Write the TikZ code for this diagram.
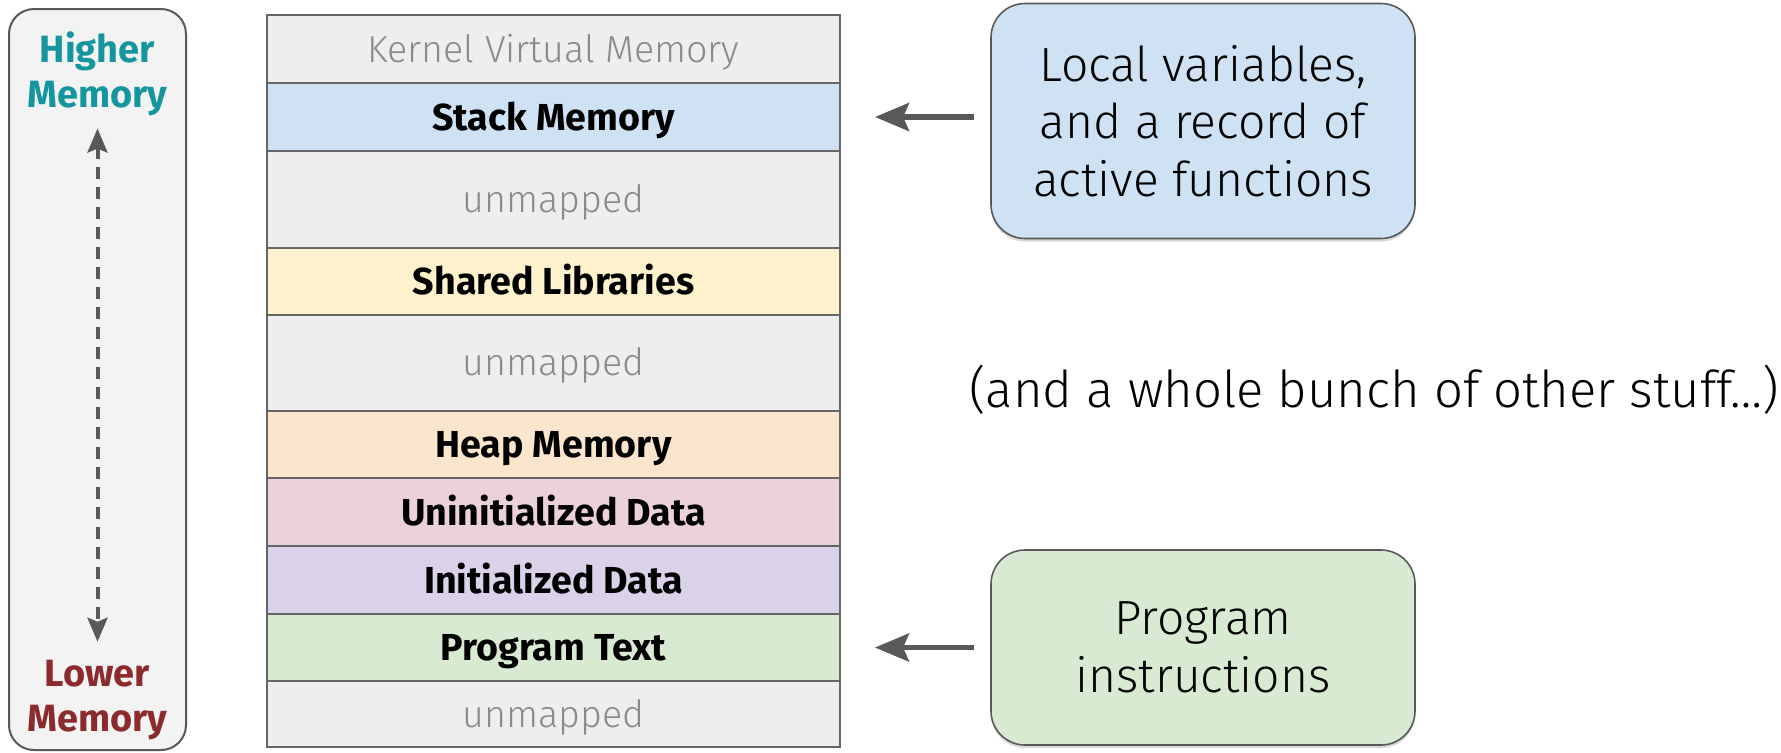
\documentclass[tikz,border=0pt]{standalone}
\usepackage{fontspec}
\setmainfont{Fira Sans}
\newfontfamily\lightfont{Fira Sans Light}
\usetikzlibrary{arrows.meta,shadows}

\definecolor{edgegray}{HTML}{666666}
\definecolor{darkgray}{HTML}{595959}
\definecolor{unmapfill}{HTML}{EEEEEE}
\definecolor{sidefill}{HTML}{F3F3F3}
\definecolor{stackfill}{HTML}{CFE2F3}
\definecolor{sharedfill}{HTML}{FFF2CC}
\definecolor{heapfill}{HTML}{FCE5CD}
\definecolor{bssfill}{HTML}{EAD1DC}
\definecolor{datafill}{HTML}{D9D2E9}
\definecolor{textfill}{HTML}{D9EAD3}
\definecolor{dimtext}{HTML}{8A8A8A}
\definecolor{hightext}{HTML}{15969F}
\definecolor{lowtext}{HTML}{8B2B2E}

\begin{document}
\begin{tikzpicture}[x=0.5pt,y=-0.5pt,
  memrow/.style={draw=edgegray, line width=1pt, minimum width=286.5pt,
    inner sep=0pt, outer sep=0pt},
  boldlabel/.style={font=\bfseries\fontsize{18.8}{20}\selectfont,
    text height=13pt, text depth=0pt},
  dimlabel/.style={text=dimtext, font=\lightfont\fontsize{18.8}{22}\selectfont,
    text height=13pt, text depth=0pt},
  sidebox/.style={draw=darkgray, line width=1pt, fill=sidefill,
    rounded corners=12.5pt, minimum width=88.5pt, minimum height=370.5pt},
  endlabel/.style={align=center, inner sep=0pt,
    font=\bfseries\fontsize{19}{22.5}\selectfont},
  callout/.style={draw=darkgray, line width=0.8pt, rounded corners=17pt,
    minimum width=212pt, align=center, inner sep=0pt,
    font=\lightfont\fontsize{24}{28.75}\selectfont,
    drop shadow={opacity=0.3, shadow xshift=0pt, shadow yshift=-1.5pt}},
  pointer/.style={draw=darkgray, line width=2.8pt,
    -{Stealth[length=17pt,width=14pt,inset=3pt]}},
  spanarrow/.style={draw=darkgray, line width=2pt, dash pattern=on 6pt off 4pt,
    {Stealth[length=12pt,width=10pt,inset=2pt]}-{Stealth[length=12pt,width=10pt,inset=2pt]}},
  note/.style={font=\lightfont\fontsize{25.4}{27}\selectfont, inner sep=0pt}
]
\useasboundingbox (0,0) rectangle (1781,752);

% address-space column, top (high addresses) to bottom
\node[memrow, fill=unmapfill, minimum height=34pt, dimlabel] (kernel) at (553.5,49) {Kernel Virtual Memory};
\node[memrow, fill=stackfill, minimum height=34pt, boldlabel] (stack) at (553.5,117) {Stack Memory};
\node[memrow, fill=unmapfill, minimum height=48.25pt, dimlabel] (gapA) at (553.5,199.25) {unmapped};
\node[memrow, fill=sharedfill, minimum height=33.5pt, boldlabel] (shared) at (553.5,281) {Shared Libraries};
\node[memrow, fill=unmapfill, minimum height=48.25pt, dimlabel] (gapB) at (553.5,362.75) {unmapped};
\node[memrow, fill=heapfill, minimum height=33.5pt, boldlabel] (heap) at (553.5,444.5) {Heap Memory};
\node[memrow, fill=bssfill, minimum height=34pt, boldlabel] (bss) at (553.5,512) {Uninitialized Data};
\node[memrow, fill=datafill, minimum height=34pt, boldlabel] (data) at (553.5,580) {Initialized Data};
\node[memrow, fill=textfill, minimum height=33.5pt, boldlabel] (progtext) at (553.5,647.5) {Program Text};
\node[memrow, fill=unmapfill, minimum height=33pt, dimlabel] (gapC) at (553.5,714) {unmapped};

% direction legend on the left
\node[sidebox] (side) at (97.5,379.5) {};
\node[endlabel, text=hightext] (higher) at (97.5,74) {Higher\\Memory};
\node[endlabel, text=lowtext] (lower) at (97.5,700) {Lower\\Memory};
\draw[spanarrow] ([yshift=-6pt]higher.south) -- ([yshift=9pt]lower.north);

% callouts
\node[callout, fill=stackfill, minimum height=117.5pt] (localbox) at (1203,121)
  {Local variables,\\and a record of\\active functions};
\node[callout, fill=textfill, minimum height=97.5pt] (instrbox) at (1203,647.5)
  {Program\\instructions};
\draw[pointer, shorten <=8pt, shorten >=17.5pt] (localbox.west |- stack.east) -- (stack.east);
\draw[pointer, shorten <=8pt, shorten >=17.5pt] (instrbox.west |- progtext.east) -- (progtext.east);

\node[note] (others) at (1374,390) {(and a whole bunch of other stuff…)};
\end{tikzpicture}
\end{document}
